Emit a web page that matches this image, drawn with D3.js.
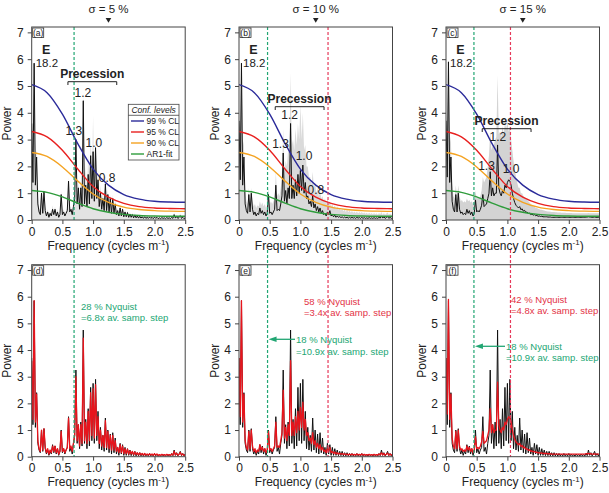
<!DOCTYPE html>
<html>
<head>
<meta charset="utf-8">
<script src="https://cdn.jsdelivr.net/npm/d3@7"></script>
<style>
    body { margin: 0; background: #fff; }
    svg { font-family: "Liberation Sans", Arial, sans-serif; }
</style>
</head>
<body>
<div id="chart"></div>
<script>
// ---- data ----
// frequency grid, cycles per metre
const freq = d3.range(126).map(i => +(i * 0.02).toFixed(2));

// original (noise-free) spectrum, black in bottom row
const specBase = [
    3.7,1.2,5.85,1.1,2.4,0.5,0.25,0.15,1.0,0.2,
    1.05,0.3,0.1,0.25,0.05,0.2,0.1,0.45,0.15,0.4,
    0.1,0.3,0.05,0.2,1.0,0.15,0.3,0.1,0.25,0.35,
    1.5,0.2,0.35,0.1,0.5,0.8,3.25,0.5,1.2,0.3,
    1.3,0.4,4.75,0.5,1.4,0.3,1.8,0.4,2.6,0.6,
    2.75,0.5,2.9,0.6,1.7,0.3,1.1,0.25,0.8,0.2,
    1.45,0.25,1.0,0.15,0.85,0.1,0.9,0.15,0.7,0.1,
    0.35,0.05,0.5,0.1,0.45,0.05,0.35,0.05,0.3,0.05,
    0.25,0.04,0.2,0.04,0.2,0.03,0.15,0.03,0.15,0.03,
    0.12,0.02,0.12,0.03,0.1,0.02,0.12,0.03,0.1,0.02,
    0.12,0.03,0.1,0.02,0.08,0.02,0.1,0.03,0.08,0.02,
    0.1,0.03,0.08,0.02,0.12,0.04,0.25,0.05,0.15,0.03,
    0.1,0.2,0.04,0.12,0.03,0.1
];

// mean spectra with sampling noise sigma = 5, 10, 15 %
const spec5 = [
    3.6,1.4,5.85,1.3,2.35,0.6,0.3,0.2,1.0,0.25,
    1.05,0.35,0.15,0.3,0.1,0.25,0.15,0.4,0.2,0.4,
    0.15,0.3,0.1,0.2,0.95,0.2,0.3,0.15,0.25,0.35,
    1.45,0.3,0.4,0.2,0.5,0.8,3.0,0.6,1.2,0.4,
    1.2,0.5,4.45,0.6,1.3,0.5,1.7,0.6,2.4,0.8,
    2.55,0.7,2.7,0.8,1.5,0.5,1.0,0.4,0.8,0.35,
    1.35,0.35,0.95,0.3,0.8,0.25,0.8,0.25,0.6,0.2,
    0.35,0.15,0.45,0.15,0.4,0.12,0.3,0.12,0.28,0.1,
    0.22,0.1,0.2,0.08,0.18,0.08,0.15,0.07,0.14,0.07,
    0.12,0.06,0.12,0.06,0.1,0.06,0.11,0.06,0.1,0.05,
    0.11,0.06,0.1,0.05,0.08,0.05,0.09,0.06,0.08,0.05,
    0.09,0.06,0.08,0.05,0.1,0.06,0.2,0.07,0.13,0.06,
    0.09,0.16,0.06,0.1,0.05,0.08
];
const spec10 = [
    3.7,1.5,5.85,1.3,2.35,0.6,0.35,0.25,0.95,0.3,
    1.0,0.4,0.2,0.3,0.15,0.25,0.2,0.45,0.25,0.35,
    0.2,0.3,0.15,0.25,0.95,0.25,0.3,0.2,0.3,0.4,
    1.3,0.35,0.4,0.35,0.6,0.9,2.5,0.7,1.1,0.6,
    1.2,0.8,3.6,0.8,1.3,0.8,1.5,0.9,1.7,1.0,
    1.85,1.1,2.05,1.0,1.4,0.8,0.9,0.6,0.7,0.5,
    0.9,0.45,0.6,0.35,0.5,0.3,0.45,0.25,0.35,0.2,
    0.25,0.15,0.3,0.2,0.35,0.15,0.2,0.12,0.18,0.1,
    0.15,0.1,0.13,0.09,0.12,0.08,0.11,0.08,0.1,0.07,
    0.1,0.07,0.1,0.07,0.09,0.06,0.1,0.07,0.09,0.06,
    0.1,0.06,0.09,0.06,0.08,0.06,0.09,0.06,0.08,0.06,
    0.09,0.06,0.08,0.06,0.1,0.07,0.15,0.07,0.12,0.06,
    0.09,0.13,0.06,0.1,0.06,0.08
];
const spec15 = [
    3.7,1.6,5.9,1.4,2.35,0.7,0.4,0.3,0.95,0.3,
    1.0,0.4,0.25,0.3,0.2,0.25,0.2,0.4,0.25,0.35,
    0.2,0.3,0.15,0.25,0.75,0.3,0.35,0.3,0.4,0.55,
    0.95,0.5,0.55,0.6,0.8,1.0,1.8,0.9,1.2,0.9,
    1.0,1.0,2.8,1.2,1.0,0.9,1.1,1.0,1.3,1.2,
    1.4,1.5,1.45,1.3,1.0,0.8,0.65,0.55,0.5,0.45,
    0.5,0.38,0.42,0.33,0.36,0.28,0.3,0.24,0.26,0.2,
    0.22,0.18,0.2,0.16,0.17,0.14,0.15,0.13,0.14,0.12,
    0.12,0.12,0.12,0.11,0.11,0.11,0.1,0.1,0.1,0.1,
    0.1,0.1,0.1,0.1,0.1,0.1,0.1,0.1,0.1,0.1,
    0.1,0.1,0.1,0.1,0.1,0.1,0.1,0.1,0.1,0.1,
    0.1,0.1,0.1,0.1,0.11,0.11,0.12,0.11,0.11,0.1,
    0.1,0.11,0.1,0.1,0.1,0.1
];

// upper edge of the grey envelope (all noise realisations)
const env5 = [
    3.8,2.6,6.0,2.4,2.6,0.9,0.45,0.35,1.1,0.45,
    1.15,0.5,0.25,0.4,0.2,0.35,0.25,0.55,0.3,0.5,
    0.25,0.4,0.2,0.3,1.1,0.3,0.4,0.25,0.35,0.45,
    1.6,0.45,0.5,0.3,0.65,1.0,3.3,0.9,1.4,0.7,
    1.5,1.1,4.8,1.3,2.0,1.2,2.4,1.5,3.2,1.8,
    3.9,1.6,3.1,1.4,1.9,0.9,1.3,0.7,1.0,0.55,
    1.55,0.55,1.15,0.45,0.95,0.4,0.95,0.4,0.75,0.3,
    0.45,0.25,0.55,0.25,0.5,0.2,0.4,0.2,0.35,0.18,
    0.3,0.16,0.26,0.15,0.25,0.14,0.2,0.13,0.2,0.12,
    0.17,0.11,0.17,0.11,0.15,0.1,0.16,0.1,0.15,0.1,
    0.16,0.1,0.15,0.1,0.13,0.1,0.14,0.1,0.13,0.1,
    0.14,0.1,0.13,0.1,0.16,0.11,0.28,0.12,0.2,0.11,
    0.15,0.24,0.1,0.17,0.1,0.14
];
const env10 = [
    4.0,3.0,6.0,3.0,2.8,1.2,0.7,0.6,1.2,0.6,
    1.2,0.7,0.5,0.6,0.45,0.55,0.5,0.7,0.55,0.65,
    0.5,0.6,0.45,0.55,1.2,0.6,0.7,0.6,0.7,0.8,
    1.8,0.9,1.0,0.9,1.2,1.6,3.4,1.8,2.2,2.0,
    2.6,2.5,5.5,2.8,3.0,2.6,3.4,2.8,3.6,3.0,
    4.3,3.0,4.0,2.6,2.8,2.0,2.0,1.6,1.6,1.3,
    1.8,1.2,1.4,1.0,1.2,0.9,1.1,0.8,0.9,0.7,
    0.8,0.6,0.8,0.55,0.7,0.5,0.6,0.45,0.55,0.4,
    0.5,0.38,0.45,0.35,0.42,0.33,0.4,0.3,0.38,0.3,
    0.35,0.28,0.34,0.27,0.32,0.26,0.32,0.25,0.3,0.25,
    0.3,0.24,0.28,0.23,0.27,0.22,0.27,0.22,0.26,0.21,
    0.26,0.21,0.25,0.2,0.26,0.21,0.3,0.2,0.26,0.2,
    0.24,0.28,0.2,0.24,0.2,0.22
];
const env15 = [
    4.0,3.2,6.0,3.2,2.9,1.4,0.9,0.8,1.3,0.8,
    1.3,0.9,0.7,0.75,0.65,0.7,0.65,0.8,0.7,0.75,
    0.65,0.7,0.6,0.7,1.1,0.8,0.85,0.8,0.9,1.1,
    1.6,1.4,1.5,1.6,2.0,2.4,3.3,2.6,2.8,2.8,
    3.0,3.1,5.4,3.2,3.3,3.1,3.5,3.2,3.6,3.4,
    3.7,3.3,3.5,3.0,2.6,2.2,1.9,1.6,1.4,1.2,
    1.2,1.0,1.0,0.9,0.85,0.8,0.75,0.7,0.65,0.6,
    0.55,0.5,0.5,0.45,0.45,0.42,0.4,0.38,0.38,0.36,
    0.35,0.34,0.33,0.32,0.32,0.31,0.3,0.3,0.3,0.29,
    0.29,0.28,0.28,0.28,0.27,0.27,0.27,0.27,0.26,0.26,
    0.26,0.26,0.26,0.25,0.25,0.25,0.25,0.25,0.25,0.25,
    0.25,0.25,0.25,0.25,0.25,0.25,0.26,0.25,0.25,0.25,
    0.25,0.25,0.25,0.25,0.25,0.25
];

// confidence levels and AR1 fit, sampled every 0.25 cycles/m
const clFreq = [0, 0.25, 0.5, 0.75, 1.0, 1.25, 1.5, 1.75, 2.0, 2.25, 2.5];
const cl99 = [5.05, 4.75, 3.95, 2.85, 1.9, 1.3, 0.95, 0.78, 0.7, 0.67, 0.66];
const cl95 = [3.3, 3.1, 2.6, 1.9, 1.25, 0.85, 0.62, 0.5, 0.45, 0.43, 0.42];
const cl90 = [2.52, 2.37, 1.98, 1.45, 0.97, 0.66, 0.48, 0.39, 0.35, 0.33, 0.32];
const ar1Fit = [1.1, 1.03, 0.86, 0.63, 0.42, 0.29, 0.21, 0.17, 0.15, 0.14, 0.14];

const yTicks = [0, 1, 2, 3, 4, 5, 6, 7];
const xTicks = [0, 0.5, 1.0, 1.5, 2.0, 2.5];
const xTickLabels = ["0", "0.5", "1.0", "1.5", "2.0", "2.5"];
const sigmaLabels = ["σ = 5 %", "σ = 10 %", "σ = 15 %"];

// Nyquist-based cut-offs (cycles/m)
const nyqGreen = [0.69, 0.465, 0.455];
const nyqRed = [null, 1.45, 1.05];

// ---- layout ----
const green = "#22a673";
const redDash = "#e6395a";
const redText = "#e33346";
const envFill = ["#e3e3e3", "#dadada", "#d3d3d3"];
const plotW = 153.5;
const lefts = [31.7, 239, 446];
const rows = [{top: 27, bottom: 220}, {top: 264.7, bottom: 456.7}];

const svg = d3.select("#chart").append("svg")
    .attr("width", 609)
    .attr("height", 493);

const curves = [
    {label: "99 % CL", values: cl99, color: "#2b2b9a"},
    {label: "95 % CL", values: cl95, color: "#e8201f"},
    {label: "90 % CL", values: cl90, color: "#f4a322"},
    {label: "AR1-fit", values: ar1Fit, color: "#2f9c3c"}
];

function makeScales(col, row) {
    const x = d3.scaleLinear().domain([0, 2.5]).range([lefts[col], lefts[col] + plotW]);
    const y = d3.scaleLinear().domain([0, 7.2]).range([rows[row].bottom, rows[row].top]);
    return {x, y};
}

function drawFrame(g, col, row, x, y, letter) {
    const L = lefts[col], r = rows[row];

    g.append("rect")
        .attr("x", L).attr("y", r.top)
        .attr("width", plotW).attr("height", r.bottom - r.top)
        .attr("fill", "none").attr("stroke", "#444").attr("stroke-width", 1);

    // y axis
    const ya = g.append("g")
        .attr("transform", `translate(${L},0)`)
        .call(d3.axisLeft(y).tickValues(yTicks).tickSize(4).tickPadding(4).tickFormat(d3.format("d")));
    ya.select(".domain").remove();

    // x axis
    const xa = g.append("g")
        .attr("transform", `translate(0,${r.bottom})`)
        .call(d3.axisBottom(x).tickValues(xTicks).tickSize(4).tickPadding(3)
            .tickFormat((d, i) => xTickLabels[i]));
    xa.select(".domain").remove();

    [ya, xa].forEach(a => {
        a.attr("font-family", null).attr("font-size", null);
        a.selectAll("line").attr("stroke", "#444");
        a.selectAll("text").style("font-size", "12px").attr("fill", "#222");
    });

    // axis titles
    g.append("text")
        .attr("transform", `translate(${L - 20.5},${(r.top + r.bottom) / 2}) rotate(-90)`)
        .attr("text-anchor", "middle")
        .style("font-size", "12px").attr("fill", "#222")
        .text("Power");

    const t = g.append("text")
        .attr("x", L + plotW / 2).attr("y", r.bottom + 29.5)
        .attr("text-anchor", "middle")
        .style("font-size", "12px").attr("fill", "#222");
    t.append("tspan").text("Frequency (cycles m");
    t.append("tspan").attr("dy", -4.5).style("font-size", "8px").text("-1");
    t.append("tspan").attr("dy", 4.5).text(")");

    // panel letter
    g.append("rect")
        .attr("x", L + 1).attr("y", r.top + 1)
        .attr("width", 11).attr("height", 9.5)
        .attr("fill", "#fff").attr("stroke", "#333").attr("stroke-width", 0.8);
    g.append("text")
        .attr("x", L + 6.5).attr("y", r.top + 8.8)
        .attr("text-anchor", "middle")
        .style("font-size", "8.5px").attr("fill", "#222")
        .text(`(${letter})`);
}

function drawNyquist(g, col, row, x, y) {
    const r = rows[row];
    const yTop = row === 0 ? r.top : 250;
    const cuts = [{f: nyqGreen[col], c: green}];
    if (nyqRed[col] !== null) cuts.push({f: nyqRed[col], c: redDash});
    cuts.forEach(d => {
        g.append("line")
            .attr("x1", x(d.f)).attr("x2", x(d.f))
            .attr("y1", yTop).attr("y2", r.bottom)
            .attr("stroke", d.c).attr("stroke-width", 1.2)
            .attr("stroke-dasharray", "3,2");
    });
}

function clipFor(g, key, col, row) {
    const r = rows[row];
    g.append("clipPath").attr("id", "clip-" + key).append("rect")
        .attr("x", lefts[col]).attr("y", r.top)
        .attr("width", plotW).attr("height", r.bottom - r.top);
    return g.append("g").attr("clip-path", `url(#clip-${key})`);
}

// ---- top row: mean spectrum, envelope, confidence levels ----
const topSpec = [spec5, spec10, spec15];
const topEnv = [env5, env10, env15];
const topLetters = ["a", "b", "c"];

topSpec.forEach((spec, col) => {
    const {x, y} = makeScales(col, 0);
    const g = svg.append("g");
    const plot = clipFor(g, topLetters[col], col, 0);

    plot.append("path")
        .datum(topEnv[col])
        .attr("fill", envFill[col])
        .attr("d", d3.area().x((d, i) => x(freq[i])).y0(y(0)).y1(d => y(d)));

    drawNyquist(g, col, 0, x, y);

    plot.append("path")
        .datum(spec)
        .attr("fill", "none").attr("stroke", "#111").attr("stroke-width", 1)
        .attr("stroke-linejoin", "round")
        .attr("d", d3.line().x((d, i) => x(freq[i])).y(d => y(d)));

    curves.forEach(c => {
        plot.append("path")
            .datum(c.values)
            .attr("fill", "none").attr("stroke", c.color).attr("stroke-width", 1.4)
            .attr("d", d3.line().x((d, i) => x(clFreq[i])).y(d => y(d)).curve(d3.curveMonotoneX));
    });

    drawFrame(g, col, 0, x, y, topLetters[col]);

    // sigma title and marker
    const cx = lefts[col] + plotW / 2;
    g.append("text")
        .attr("x", cx).attr("y", 12.5)
        .attr("text-anchor", "middle")
        .style("font-size", "11.5px").attr("fill", "#222")
        .text(sigmaLabels[col]);
    g.append("path")
        .attr("d", `M${cx - 2.8},18 L${cx + 2.8},18 L${cx},22.8 Z`)
        .attr("fill", "#222");
});

// peak annotations for the top row
function label(g, txt, xPos, yPos, opts = {}) {
    return g.append("text")
        .attr("x", xPos).attr("y", yPos)
        .attr("text-anchor", opts.anchor || "middle")
        .style("font-size", (opts.size || 12) + "px")
        .style("font-weight", opts.bold ? "bold" : "normal")
        .attr("fill", "#222")
        .text(txt);
}

const ann = svg.append("g");
const precY = [78, 103, 125];
const peakLabels = [
    {t: "1.2", dx: [51.1, 50.7, 51.8], y: [96.5, 119, 141]},
    {t: "1.3", dx: [42.1, 41.5, 40.5], y: [135, 148, 170]},
    {t: "1.0", dx: [62.1, 65, 65], y: [146.5, 160, 173]},
    {t: "0.8", dx: [75.5, 76.8, null], y: [181.5, 194, null]}
];
[0, 1, 2].forEach(col => {
    const {x} = makeScales(col, 0);
    const L = lefts[col];
    label(ann, "E", L + 14.5, 54, {bold: true, size: 12.5});
    label(ann, "18.2", L + 4, 66.5, {anchor: "start", size: 11.5});
    label(ann, "Precession", L + 60.5, precY[col], {bold: true});
    const by = precY[col] + 3.7;
    ann.append("path")
        .attr("d", `M${x(0.59)},${by + 3.3} V${by} H${x(1.385)} V${by + 3.3}`)
        .attr("fill", "none").attr("stroke", "#222").attr("stroke-width", 1);
    peakLabels.forEach(p => {
        if (p.dx[col] !== null) label(ann, p.t, L + p.dx[col], p.y[col]);
    });
});

// legend in panel (a)
const lg = svg.append("g");
lg.append("rect")
    .attr("x", 128.3).attr("y", 104.3).attr("width", 50.7).attr("height", 55.7)
    .attr("fill", "#fff").attr("stroke", "#444").attr("stroke-width", 0.8);
lg.append("line")
    .attr("x1", 128.3).attr("x2", 179).attr("y1", 115.3).attr("y2", 115.3)
    .attr("stroke", "#444").attr("stroke-width", 0.8);
lg.append("text")
    .attr("x", 153.6).attr("y", 113)
    .attr("text-anchor", "middle")
    .style("font-size", "8.5px").style("font-style", "italic").attr("fill", "#222")
    .text("Conf. levels");
curves.forEach((c, i) => {
    const yy = 121 + i * 11;
    lg.append("line")
        .attr("x1", 131).attr("x2", 144).attr("y1", yy).attr("y2", yy)
        .attr("stroke", c.color).attr("stroke-width", 1.4);
    lg.append("text")
        .attr("x", 146.5).attr("y", yy + 3)
        .style("font-size", "8.5px").attr("fill", "#222")
        .text(c.label);
});

// ---- bottom row: original vs noisy spectrum ----
const botLetters = ["d", "e", "f"];
topSpec.forEach((spec, col) => {
    const {x, y} = makeScales(col, 1);
    const g = svg.append("g");
    const plot = clipFor(g, botLetters[col], col, 1);

    drawNyquist(g, col, 1, x, y);

    const ln = d3.line().x((d, i) => x(freq[i])).y(d => y(d));
    plot.append("path")
        .datum(specBase)
        .attr("fill", "none").attr("stroke", "#111").attr("stroke-width", 1)
        .attr("d", ln);
    plot.append("path")
        .datum(spec)
        .attr("fill", "none").attr("stroke", "#e8141c").attr("stroke-width", 1.3)
        .attr("stroke-linejoin", "round")
        .attr("d", ln);

    drawFrame(g, col, 1, x, y, botLetters[col]);
});

// Nyquist annotations
function note(g, lines, xPos, yPos, color) {
    lines.forEach((t, i) => {
        g.append("text")
            .attr("x", xPos).attr("y", yPos + i * 11.8)
            .style("font-size", "9.5px").attr("fill", color)
            .text(t);
    });
}
function arrow(g, x1, x2, yPos) {
    g.append("line")
        .attr("x1", x1).attr("x2", x2 + 6).attr("y1", yPos).attr("y2", yPos)
        .attr("stroke", green).attr("stroke-width", 1.3);
    g.append("path")
        .attr("d", `M${x2},${yPos} L${x2 + 8},${yPos - 2.8} L${x2 + 8},${yPos + 2.8} Z`)
        .attr("fill", green);
}
const na = svg.append("g");
note(na, ["28 % Nyquist", "=6.8x av. samp. step"], 81, 309.5, green);
note(na, ["58 % Nyquist", "=3.4x av. samp. step"], 304, 304.5, redText);
note(na, ["18 % Nyquist", "=10.9x av. samp. step"], 296, 343, green);
arrow(na, 295, makeScales(1, 1).x(nyqGreen[1]) + 1, 339.3);
note(na, ["42 % Nyquist", "=4.8x av. samp. step"], 511, 302.5, redText);
note(na, ["18 % Nyquist", "=10.9x av. samp. step"], 506, 349.5, green);
arrow(na, 505, makeScales(2, 1).x(nyqGreen[2]) + 1, 346.3);
</script>
</body>
</html>
